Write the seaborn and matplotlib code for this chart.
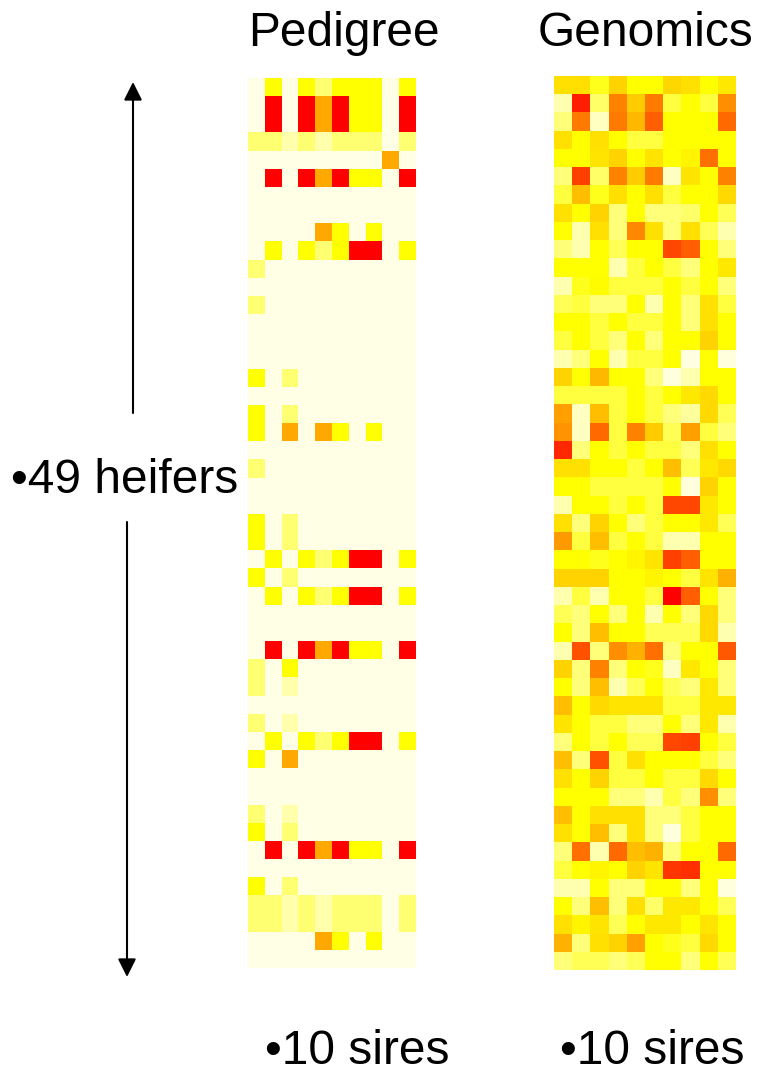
import numpy as np
import pandas as pd
import seaborn as sns
import matplotlib
matplotlib.use("Agg")
import matplotlib.pyplot as plt
from matplotlib.colors import LinearSegmentedColormap

# Relationship coefficients between 49 heifers (rows) and 10 sires (columns)
sires = [f"S{i + 1}" for i in range(10)]
heifers = [f"H{i + 1}" for i in range(49)]

pedigree = [
    [0, .125, 0, .125, .0625, .125, .125, .125, 0, .125],
    [0, .5, 0, .5, .25, .5, .125, .125, 0, .5],
    [0, .5, 0, .5, .25, .5, .125, .125, 0, .5],
    [.0625, .0625, .03125, .0625, .03125, .0625, .0625, .0625, 0, .0625],
    [0, 0, 0, 0, 0, 0, 0, 0, .25, 0],
    [0, .5, 0, .5, .25, .5, .125, .125, 0, .5],
    [0, 0, 0, 0, 0, 0, 0, 0, 0, 0],
    [0, 0, 0, 0, 0, 0, 0, 0, 0, 0],
    [0, 0, 0, 0, .25, .125, 0, .125, 0, 0],
    [0, .125, 0, .125, .0625, .125, .5, .5, 0, .125],
    [.0625, 0, 0, 0, 0, 0, 0, 0, 0, 0],
    [0, 0, 0, 0, 0, 0, 0, 0, 0, 0],
    [.0625, 0, 0, 0, 0, 0, 0, 0, 0, 0],
    [0, 0, 0, 0, 0, 0, 0, 0, 0, 0],
    [0, 0, 0, 0, 0, 0, 0, 0, 0, 0],
    [0, 0, 0, 0, 0, 0, 0, 0, 0, 0],
    [.125, 0, .0625, 0, 0, 0, 0, 0, 0, 0],
    [0, 0, 0, 0, 0, 0, 0, 0, 0, 0],
    [.125, 0, .0625, 0, 0, 0, 0, 0, 0, 0],
    [.125, 0, .25, 0, .25, .125, 0, .125, 0, 0],
    [0, 0, 0, 0, 0, 0, 0, 0, 0, 0],
    [.0625, 0, 0, 0, 0, 0, 0, 0, 0, 0],
    [0, 0, 0, 0, 0, 0, 0, 0, 0, 0],
    [0, 0, 0, 0, 0, 0, 0, 0, 0, 0],
    [.125, 0, .0625, 0, 0, 0, 0, 0, 0, 0],
    [.125, 0, .0625, 0, 0, 0, 0, 0, 0, 0],
    [0, .125, 0, .125, .0625, .125, .5, .5, 0, .125],
    [.125, 0, .0625, 0, 0, 0, 0, 0, 0, 0],
    [0, .125, 0, .125, .0625, .125, .5, .5, 0, .125],
    [0, 0, 0, 0, 0, 0, 0, 0, 0, 0],
    [0, 0, 0, 0, 0, 0, 0, 0, 0, 0],
    [0, .5, 0, .5, .25, .5, .125, .125, 0, .5],
    [.0625, 0, .125, 0, 0, 0, 0, 0, 0, 0],
    [.0625, 0, .03125, 0, 0, 0, 0, 0, 0, 0],
    [0, 0, 0, 0, 0, 0, 0, 0, 0, 0],
    [.0625, 0, .03125, 0, 0, 0, 0, 0, 0, 0],
    [0, .125, 0, .125, .0625, .125, .5, .5, 0, .125],
    [.125, 0, .25, 0, 0, 0, 0, 0, 0, 0],
    [0, 0, 0, 0, 0, 0, 0, 0, 0, 0],
    [0, 0, 0, 0, 0, 0, 0, 0, 0, 0],
    [.0625, 0, .03125, 0, 0, 0, 0, 0, 0, 0],
    [.125, 0, .0625, 0, 0, 0, 0, 0, 0, 0],
    [0, .5, 0, .5, .25, .5, .125, .125, 0, .5],
    [0, 0, 0, 0, 0, 0, 0, 0, 0, 0],
    [.125, 0, .0625, 0, 0, 0, 0, 0, 0, 0],
    [.0625, .0625, .03125, .0625, .03125, .0625, .0625, .0625, 0, .0625],
    [.0625, .0625, .03125, .0625, .03125, .0625, .0625, .0625, 0, .0625],
    [0, 0, 0, 0, .25, .125, 0, .125, 0, 0],
    [0, 0, 0, 0, 0, 0, 0, 0, 0, 0],
]

genomics = [
    [.17, .17, .11, .19, .125, .125, .185, .17, .125, .16],
    [.03, .455, .07, .31, .20, .32, .09, .125, .09, .29],
    [.06, .32, .02, .32, .23, .36, .125, .125, .125, .345],
    [.17, .125, .17, .125, .09, .09, .125, .125, .125, .125],
    [.125, .125, .165, .19, .125, .165, .125, .14, .335, .125],
    [.06, .405, .07, .31, .20, .32, .02, .165, .125, .31],
    [.09, .22, .11, .17, .125, .17, .09, .125, .125, .18],
    [.17, .125, .19, .06, .125, .06, .06, .07, .125, .08],
    [.125, .03, .17, .06, .30, .17, .06, .17, .08, .03],
    [.06, .03, .125, .08, .125, .125, .395, .36, .125, .06],
    [.125, .125, .125, .03, .09, .125, .09, .06, .125, .16],
    [.03, .11, .13, .09, .09, .09, .125, .09, .125, .06],
    [.08, .09, .06, .06, .125, .03, .125, .06, .17, .09],
    [.125, .125, .09, .125, .09, .09, .125, .06, .17, .125],
    [.09, .125, .09, .06, .125, .06, .125, .125, .19, .125],
    [.03, .06, .125, .03, .09, .09, .125, .003, .125, .005],
    [.19, .125, .23, .125, .125, .06, .005, .03, .125, .125],
    [.09, .09, .09, .09, .125, .09, .125, .16, .18, .125],
    [.265, .02, .22, .09, .125, .09, .06, .04, .18, .08],
    [.285, .02, .345, .09, .31, .20, .08, .265, .09, .06],
    [.44, .06, .125, .09, .125, .09, .09, .06, .17, .125],
    [.17, .17, .125, .125, .09, .125, .22, .08, .16, .18],
    [.125, .125, .09, .09, .09, .09, .125, .005, .19, .125],
    [.03, .125, .125, .09, .125, .09, .395, .395, .16, .125],
    [.17, .06, .19, .125, .06, .09, .125, .125, .16, .08],
    [.275, .09, .22, .09, .125, .09, .03, .03, .125, .125],
    [.125, .125, .11, .125, .14, .165, .405, .36, .125, .125],
    [.19, .19, .19, .125, .125, .14, .125, .09, .165, .24],
    [.03, .09, .03, .125, .125, .09, .5, .36, .125, .06],
    [.08, .06, .125, .06, .125, .03, .125, .06, .18, .06],
    [.125, .06, .22, .125, .125, .08, .08, .08, .18, .03],
    [.03, .38, .06, .29, .24, .335, .06, .125, .125, .37],
    [.19, .06, .31, .06, .125, .11, .02, .16, .125, .06],
    [.125, .06, .22, .03, .08, .125, .08, .06, .16, .06],
    [.22, .125, .18, .165, .165, .165, .09, .09, .16, .16],
    [.165, .125, .09, .09, .06, .06, .125, .06, .16, .03],
    [.06, .125, .09, .125, .08, .08, .395, .405, .125, .09],
    [.22, .06, .38, .09, .17, .125, .125, .125, .09, .06],
    [.17, .125, .19, .09, .09, .125, .09, .09, .18, .125],
    [.125, .125, .125, .06, .06, .03, .09, .06, .29, .06],
    [.22, .125, .17, .17, .17, .06, .06, .09, .125, .125],
    [.17, .125, .22, .06, .17, .06, .005, .09, .125, .125],
    [.06, .335, .03, .345, .22, .24, .06, .125, .125, .345],
    [.09, .125, .14, .125, .19, .165, .42, .43, .125, .125],
    [.03, .03, .125, .06, .06, .125, .125, .06, .125, .005],
    [.125, .06, .22, .06, .17, .07, .16, .16, .125, .08],
    [.17, .14, .165, .08, .125, .16, .16, .125, .165, .125],
    [.24, .06, .17, .19, .265, .125, .11, .09, .18, .125],
    [.06, .08, .08, .06, .08, .125, .125, .06, .125, .08],
]

titles = ["Pedigree", "Genomics"]
row_label = "\u202249 heifers"
col_label = "\u202210 sires"

sns.set_theme(style="white")
plt.rcParams["font.family"] = ["Liberation Sans", "DejaVu Sans"]

W, H = 757, 1073
fig = plt.figure(figsize=(W / 100, H / 100), dpi=100)
fig.patch.set_facecolor("white")

# cream -> yellow -> red
cmap = LinearSegmentedColormap.from_list(
    "rel", [(0.0, (1, 1, 0.9)), (0.25, (1, 1, 0)), (1.0, (1, 0, 0))]
)


def px_axes(left, top, right, bottom):
    return fig.add_axes([left / W, 1 - bottom / H, (right - left) / W, (bottom - top) / H])


ax_p = px_axes(248, 78, 416, 968)
ax_g = px_axes(554, 76, 736, 970)

for ax, mat in [(ax_p, pedigree), (ax_g, genomics)]:
    df = pd.DataFrame(mat, index=heifers, columns=sires)
    sns.heatmap(df, ax=ax, cmap=cmap, vmin=0, vmax=0.5, cbar=False,
                xticklabels=False, yticklabels=False, linewidths=0)
    ax.set_xlabel("")
    ax.set_ylabel("")

fs = 34.5


def put(x, y, s, ha="center"):
    fig.text(x / W, 1 - y / H, s, ha=ha, va="baseline", fontsize=fs, color="black")


put(343.5, 46, titles[0])
put(646, 46, titles[1])
put(124.5, 493, row_label)
put(357, 1064, col_label)
put(652, 1064, col_label)

# arrows spanning the heifer rows
ov = fig.add_axes([0, 0, 1, 1])
ov.set_xlim(0, W)
ov.set_ylim(H, 0)
ov.axis("off")
arrow_kw = dict(arrowstyle="-|>,head_length=1.1,head_width=0.55", color="black",
                lw=1.5, mutation_scale=10, shrinkA=0, shrinkB=0)
ov.annotate("", xy=(133, 82), xytext=(133, 413), arrowprops=arrow_kw)
ov.annotate("", xy=(127, 977), xytext=(127, 522), arrowprops=arrow_kw)

fig.savefig("out.png", dpi=100, facecolor="white")
